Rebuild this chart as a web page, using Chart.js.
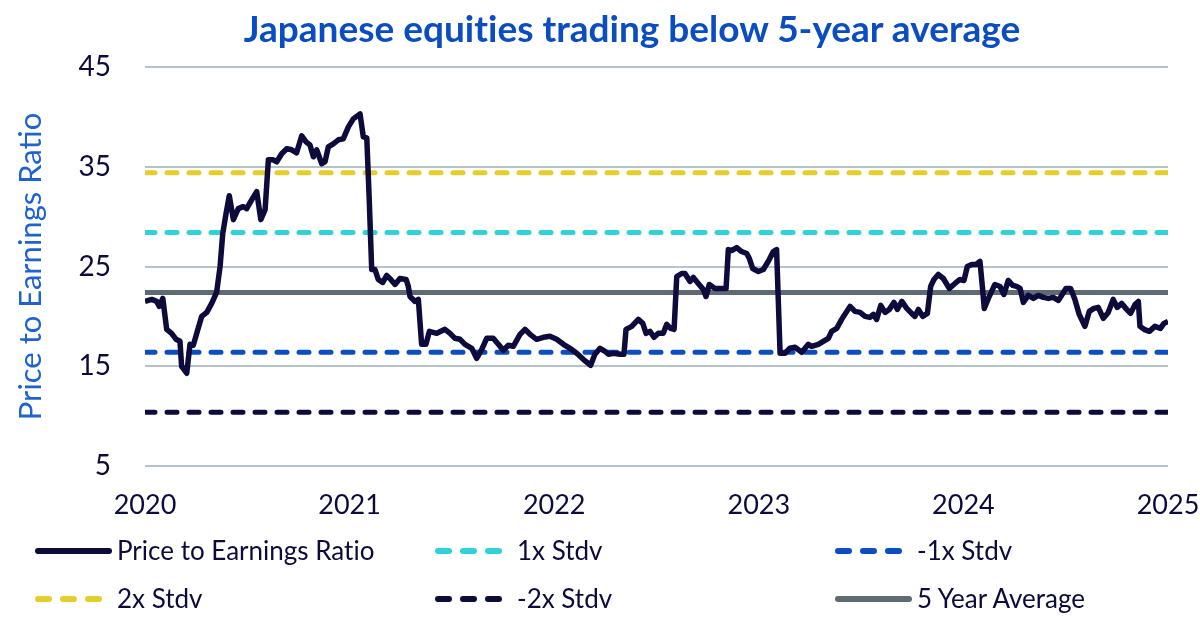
<!DOCTYPE html>
<html>
<head>
<meta charset="utf-8">
<script src="https://cdn.jsdelivr.net/npm/chart.js@4.4.1/dist/chart.umd.min.js"></script>
<style>
  html, body { margin: 0; padding: 0; background: #ffffff; }
  #wrap { position: relative; width: 1200px; height: 622px; overflow: hidden; background: #fff; }
  #c { position: absolute; left: 0; top: 0; }
  #title { position: absolute; top: 6px; left: 632px; transform: translateX(-50%);
    white-space: nowrap; font-family: 'Lato', sans-serif; font-weight: 700; font-size: 37px;
    line-height: 1.2; color: #0a4cc2; font-variant-ligatures: none; font-feature-settings: "liga" 0; }
  .item { position: absolute; display: flex; align-items: center; height: 31px;
    font-family: 'Lato', sans-serif; font-size: 26px; line-height: 1.2; color: #0d0a3c; white-space: nowrap;
    font-variant-ligatures: none; }
  .item svg { display: block; margin-right: 5px; }
</style>
</head>
<body>
<div id="wrap">
  <canvas id="c" width="1200" height="622"></canvas>
  <div id="title">Japanese equities trading below 5-year average</div>
  <div id="legend"></div>
</div>
<script>
// ---------- data ----------
const xTickLabels = ['2020', '2021', '2022', '2023', '2024', '2025'];
const yTickValues = [5, 15, 25, 35, 45];

const dates = [
  2020.000, 2020.033, 2020.057, 2020.070, 2020.087, 2020.106, 2020.130, 2020.152, 2020.171, 2020.179,
  2020.204, 2020.220, 2020.236, 2020.253, 2020.277, 2020.302, 2020.326, 2020.350, 2020.367, 2020.380,
  2020.396, 2020.412, 2020.432, 2020.456, 2020.480, 2020.497, 2020.522, 2020.546, 2020.566, 2020.587,
  2020.603, 2020.627, 2020.644, 2020.668, 2020.693, 2020.717, 2020.741, 2020.766, 2020.787, 2020.806,
  2020.823, 2020.839, 2020.864, 2020.880, 2020.896, 2020.920, 2020.945, 2020.969, 2020.994, 2021.018,
  2021.051, 2021.067, 2021.084, 2021.096, 2021.108, 2021.124, 2021.140, 2021.162, 2021.181, 2021.197,
  2021.222, 2021.246, 2021.276, 2021.287, 2021.295, 2021.320, 2021.336, 2021.352, 2021.373, 2021.390,
  2021.426, 2021.466, 2021.491, 2021.515, 2021.540, 2021.564, 2021.597, 2021.621, 2021.646, 2021.670,
  2021.702, 2021.727, 2021.751, 2021.776, 2021.800, 2021.833, 2021.857, 2021.882, 2021.914, 2021.947,
  2021.979, 2022.012, 2022.045, 2022.077, 2022.110, 2022.142, 2022.178, 2022.199, 2022.224, 2022.248,
  2022.265, 2022.289, 2022.322, 2022.341, 2022.351, 2022.379, 2022.411, 2022.433, 2022.449, 2022.468,
  2022.488, 2022.509, 2022.533, 2022.550, 2022.569, 2022.586, 2022.599, 2022.623, 2022.639, 2022.664,
  2022.680, 2022.704, 2022.729, 2022.742, 2022.758, 2022.786, 2022.810, 2022.840, 2022.851, 2022.867,
  2022.892, 2022.916, 2022.941, 2022.954, 2022.970, 2022.998, 2023.022, 2023.046, 2023.071, 2023.087,
  2023.104, 2023.128, 2023.152, 2023.177, 2023.210, 2023.242, 2023.258, 2023.291, 2023.315, 2023.340,
  2023.356, 2023.381, 2023.405, 2023.430, 2023.446, 2023.470, 2023.495, 2023.519, 2023.543, 2023.560,
  2023.576, 2023.596, 2023.617, 2023.638, 2023.661, 2023.677, 2023.699, 2023.723, 2023.747, 2023.763,
  2023.780, 2023.801, 2023.824, 2023.840, 2023.856, 2023.877, 2023.902, 2023.931, 2023.959, 2023.983,
  2024.003, 2024.019, 2024.041, 2024.062, 2024.081, 2024.094, 2024.102, 2024.122, 2024.138, 2024.154,
  2024.179, 2024.198, 2024.219, 2024.241, 2024.260, 2024.277, 2024.293, 2024.317, 2024.342, 2024.366,
  2024.391, 2024.415, 2024.439, 2024.464, 2024.480, 2024.501, 2024.524, 2024.545, 2024.566, 2024.594,
  2024.615, 2024.638, 2024.659, 2024.684, 2024.708, 2024.732, 2024.752, 2024.773, 2024.798, 2024.817,
  2024.839, 2024.855, 2024.863, 2024.883, 2024.909, 2024.936, 2024.963, 2024.980, 2025.000
];

const peRatio = [
  21.5, 21.7, 21.5, 21.0, 21.8, 18.7, 18.3, 17.7, 17.5, 15.0,
  14.3, 17.2, 17.1, 18.3, 20.0, 20.4, 21.3, 22.4, 25.0, 28.3,
  30.3, 32.1, 29.7, 30.8, 31.0, 30.8, 31.7, 32.5, 29.7, 30.7,
  35.7, 35.7, 35.5, 36.3, 36.8, 36.7, 36.4, 38.1, 37.5, 37.2,
  36.0, 36.7, 35.3, 35.5, 37.0, 37.3, 37.7, 37.8, 39.0, 39.8,
  40.3, 38.0, 37.9, 31.7, 24.7, 24.7, 23.7, 23.4, 24.1, 23.8,
  23.2, 23.8, 23.7, 23.0, 22.0, 21.5, 21.7, 17.2, 17.2, 18.5,
  18.3, 18.7, 18.3, 17.8, 17.7, 17.2, 16.8, 15.8, 16.7, 17.8,
  17.8, 17.2, 16.6, 17.1, 17.0, 18.2, 18.7, 18.2, 17.7, 17.9,
  18.0, 17.7, 17.2, 16.8, 16.3, 15.7, 15.1, 16.2, 16.8, 16.5,
  16.2, 16.3, 16.2, 16.2, 18.7, 19.0, 19.7, 19.3, 18.3, 18.5,
  17.9, 18.3, 18.3, 19.2, 18.8, 18.7, 24.0, 24.3, 24.3, 23.5,
  23.9, 23.3, 22.7, 22.0, 23.2, 22.8, 22.8, 22.8, 26.7, 26.6,
  26.9, 26.5, 26.3, 25.8, 24.8, 24.5, 24.7, 25.5, 26.5, 26.7,
  16.3, 16.3, 16.8, 16.9, 16.4, 17.2, 17.0, 17.2, 17.5, 17.8,
  18.5, 18.8, 19.7, 20.5, 21.0, 20.5, 20.4, 20.0, 19.9, 20.2,
  19.7, 21.1, 20.4, 20.7, 21.4, 20.7, 21.5, 20.8, 20.3, 20.0,
  20.7, 20.0, 20.3, 23.0, 23.7, 24.2, 23.8, 22.8, 23.3, 23.7,
  23.6, 25.0, 25.2, 25.2, 25.5, 22.7, 20.8, 21.8, 22.5, 23.2,
  23.0, 22.2, 23.6, 23.1, 23.0, 22.8, 21.4, 22.1, 21.8, 22.1,
  21.9, 21.8, 21.9, 21.6, 22.1, 22.8, 22.8, 21.7, 20.2, 19.0,
  20.5, 20.8, 20.9, 19.8, 20.4, 21.7, 20.9, 21.3, 20.7, 20.3,
  21.2, 21.5, 19.0, 18.7, 18.5, 19.0, 18.8, 19.3, 19.5
];

const fiveYearAverage = 22.4;
const plus1Stdv = 28.4;
const minus1Stdv = 16.4;
const plus2Stdv = 34.4;
const minus2Stdv = 10.4;

const seriesNames = ['Price to Earnings Ratio', '1x Stdv', '-1x Stdv', '2x Stdv', '-2x Stdv', '5 Year Average'];
const bandValues = [null, plus1Stdv, minus1Stdv, plus2Stdv, minus2Stdv, fiveYearAverage];

// ---------- styles ----------
const NAVY = '#0d0a3c';
const seriesColors = [NAVY, '#2fd2d8', '#0a4fc2', '#e5ce2b', NAVY, '#5f6b73'];
const seriesDashed = [false, true, true, true, true, false];

const xMin = 2020, xMax = 2025;

const datasets = seriesNames.map((name, i) => {
  const data = i === 0
    ? dates.map((d, k) => ({ x: d, y: peRatio[k] }))
    : [{ x: xMin, y: bandValues[i] }, { x: xMax, y: bandValues[i] }];
  return {
    label: name,
    data: data,
    borderColor: seriesColors[i],
    backgroundColor: seriesColors[i],
    borderWidth: i === 0 ? 5.5 : 5,
    borderDash: seriesDashed[i] ? [10, 12] : [],
    borderCapStyle: seriesDashed[i] ? 'round' : 'butt',
    borderJoinStyle: 'round',
    pointRadius: 0,
    pointHoverRadius: 0,
    tension: 0,
    fill: false
  };
});

Chart.defaults.font.family = "'Lato', sans-serif";

new Chart(document.getElementById('c'), {
  type: 'line',
  data: { datasets },
  options: {
    responsive: false,
    animation: false,
    devicePixelRatio: 1,
    layout: { padding: { top: 67, right: 32, bottom: 96, left: 0 } },
    plugins: {
      legend: { display: false },
      title: { display: false },
      tooltip: { enabled: false }
    },
    scales: {
      x: {
        type: 'linear',
        min: xMin,
        max: xMax,
        grid: { display: false, drawTicks: false },
        border: { display: false },
        ticks: {
          autoSkip: false,
          maxRotation: 0,
          padding: 23,
          color: NAVY,
          font: { size: 27 },
          callback: (v) => xTickLabels[Math.round(v - xMin)]
        },
        afterBuildTicks: (scale) => {
          scale.ticks = xTickLabels.map((t, i) => ({ value: xMin + i }));
        },
        afterFit: (scale) => {
          scale.height = 60;
          scale.paddingLeft = 0;
          scale.paddingRight = 0;
        }
      },
      y: {
        min: 5,
        max: 45,
        grid: { color: '#b6c2cc', lineWidth: 2, drawTicks: false },
        border: { display: false },
        ticks: {
          padding: 34,
          color: NAVY,
          font: { size: 28 }
        },
        afterBuildTicks: (scale) => {
          scale.ticks = yTickValues.map(v => ({ value: v }));
        },
        title: {
          display: true,
          text: 'Price to Earnings Ratio',
          color: '#1f63d0',
          font: { size: 31 },
          padding: { top: 12, bottom: 0 }
        },
        afterFit: (scale) => {
          scale.width = 145;
          scale.paddingTop = 0;
          scale.paddingBottom = 0;
        }
      }
    }
  }
});

// ---------- legend (HTML, built from the series arrays) ----------
const legend = document.getElementById('legend');
const colX = [35, 435, 835];
const rowY = [535, 583];
seriesNames.forEach((name, i) => {
  const item = document.createElement('div');
  item.className = 'item';
  item.style.left = colX[i % 3] + 'px';
  item.style.top = rowY[Math.floor(i / 3)] + 'px';
  const ns = 'http://www.w3.org/2000/svg';
  const svg = document.createElementNS(ns, 'svg');
  svg.setAttribute('width', '77');
  svg.setAttribute('height', '10');
  const ln = document.createElementNS(ns, 'line');
  ln.setAttribute('y1', '5');
  ln.setAttribute('y2', '5');
  ln.setAttribute('stroke', seriesColors[i]);
  ln.setAttribute('stroke-width', '6');
  ln.setAttribute('stroke-linecap', 'round');
  if (seriesDashed[i]) {
    ln.setAttribute('x1', '3');
    ln.setAttribute('x2', '64');
    ln.setAttribute('stroke-dasharray', '11 14');
  } else {
    ln.setAttribute('x1', '3');
    ln.setAttribute('x2', '74');
  }
  svg.appendChild(ln);
  item.appendChild(svg);
  const span = document.createElement('span');
  span.textContent = name;
  item.appendChild(span);
  legend.appendChild(item);
});
</script>
</body>
</html>
